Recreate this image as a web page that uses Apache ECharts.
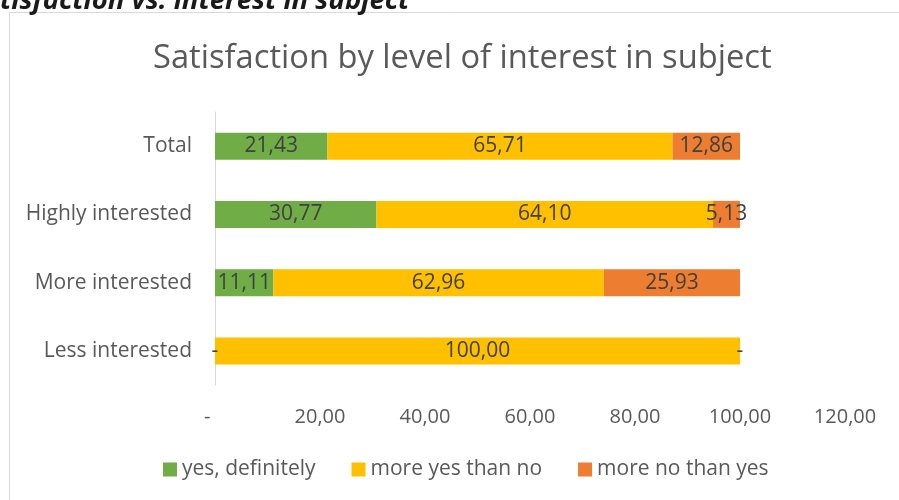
<!DOCTYPE html>
<html>
<head>
<meta charset="utf-8">
<script src="https://cdn.jsdelivr.net/npm/echarts@6/dist/echarts.min.js"></script>
<style>
  html, body { margin: 0; padding: 0; background: #fff; }
  #chart { width: 899px; height: 500px; }
</style>
</head>
<body>
<div id="chart"></div>
<script>
// Interest groups (top to bottom) and the share of each answer, in percent
const categories = ['Total', 'Highly interested', 'More interested', 'Less interested'];
const yesDefinitely = [21.43, 30.77, 11.11, 0];
const moreYesThanNo = [65.71, 64.10, 62.96, 100.00];
const moreNoThanYes = [12.86, 5.13, 25.93, 0];
const seriesNames = ['yes, definitely', 'more yes than no', 'more no than yes'];
const xTicks = { min: 0, max: 120, step: 20 };

const FONT = '"Open Sans"';
const fmt = v => v === 0 ? '-' : v.toFixed(2).replace('.', ',');

const chart = echarts.init(document.getElementById('chart'), null, { renderer: 'canvas' });

function barSeries(name, data, color) {
  return {
    name: name,
    type: 'bar',
    stack: 'share',
    barWidth: 27,
    data: data,
    itemStyle: { color: color },
    label: {
      show: true,
      position: 'inside',
      color: '#404040',
      fontFamily: FONT,
      fontSize: 21,
      formatter: p => fmt(p.value)
    },
    emphasis: { disabled: true }
  };
}

chart.setOption({
  animation: false,
  textStyle: { fontFamily: FONT },
  title: {
    text: 'Satisfaction by level of interest in subject',
    left: 148,
    top: 37,
    textStyle: { fontFamily: FONT, fontSize: 32.7, fontWeight: 'normal', color: '#595959' }
  },
  graphic: [
    {
      type: 'rect',
      shape: { x: 9.5, y: 12.5, width: 1000, height: 1000 },
      style: { fill: 'none', stroke: '#d9d9d9', lineWidth: 1 },
      silent: true
    },
    {
      type: 'text',
      x: 0,
      y: -12,
      style: {
        text: 'tisfaction vs. interest in subject',
        font: 'italic bold 27.5px "Open Sans"',
        fill: '#1a1a1a'
      },
      silent: true
    }
  ],
  legend: {
    left: 163,
    top: 459,
    padding: 0,
    itemWidth: 14,
    itemHeight: 14,
    itemGap: 36,
    icon: 'rect',
    textStyle: { fontFamily: FONT, fontSize: 21, color: '#595959' },
    data: seriesNames
  },
  grid: { left: 215, right: 54, top: 112, bottom: 115, containLabel: false },
  xAxis: {
    type: 'value',
    min: xTicks.min,
    max: xTicks.max,
    interval: xTicks.step,
    axisLine: { show: false },
    axisTick: { show: false },
    splitLine: { show: false },
    axisLabel: {
      color: '#595959',
      fontFamily: FONT,
      fontSize: 20,
      margin: 22,
      formatter: v => v === 0 ? '-   ' : fmt(v)
    }
  },
  yAxis: {
    type: 'category',
    inverse: true,
    data: categories,
    axisLine: { show: true, lineStyle: { color: '#d9d9d9', width: 1 } },
    axisTick: { show: false },
    axisLabel: { color: '#595959', fontFamily: FONT, fontSize: 21, margin: 23 }
  },
  series: [
    barSeries(seriesNames[0], yesDefinitely, '#70ad47'),
    barSeries(seriesNames[1], moreYesThanNo, '#ffc000'),
    barSeries(seriesNames[2], moreNoThanYes, '#ed7d31')
  ]
});
</script>
</body>
</html>
